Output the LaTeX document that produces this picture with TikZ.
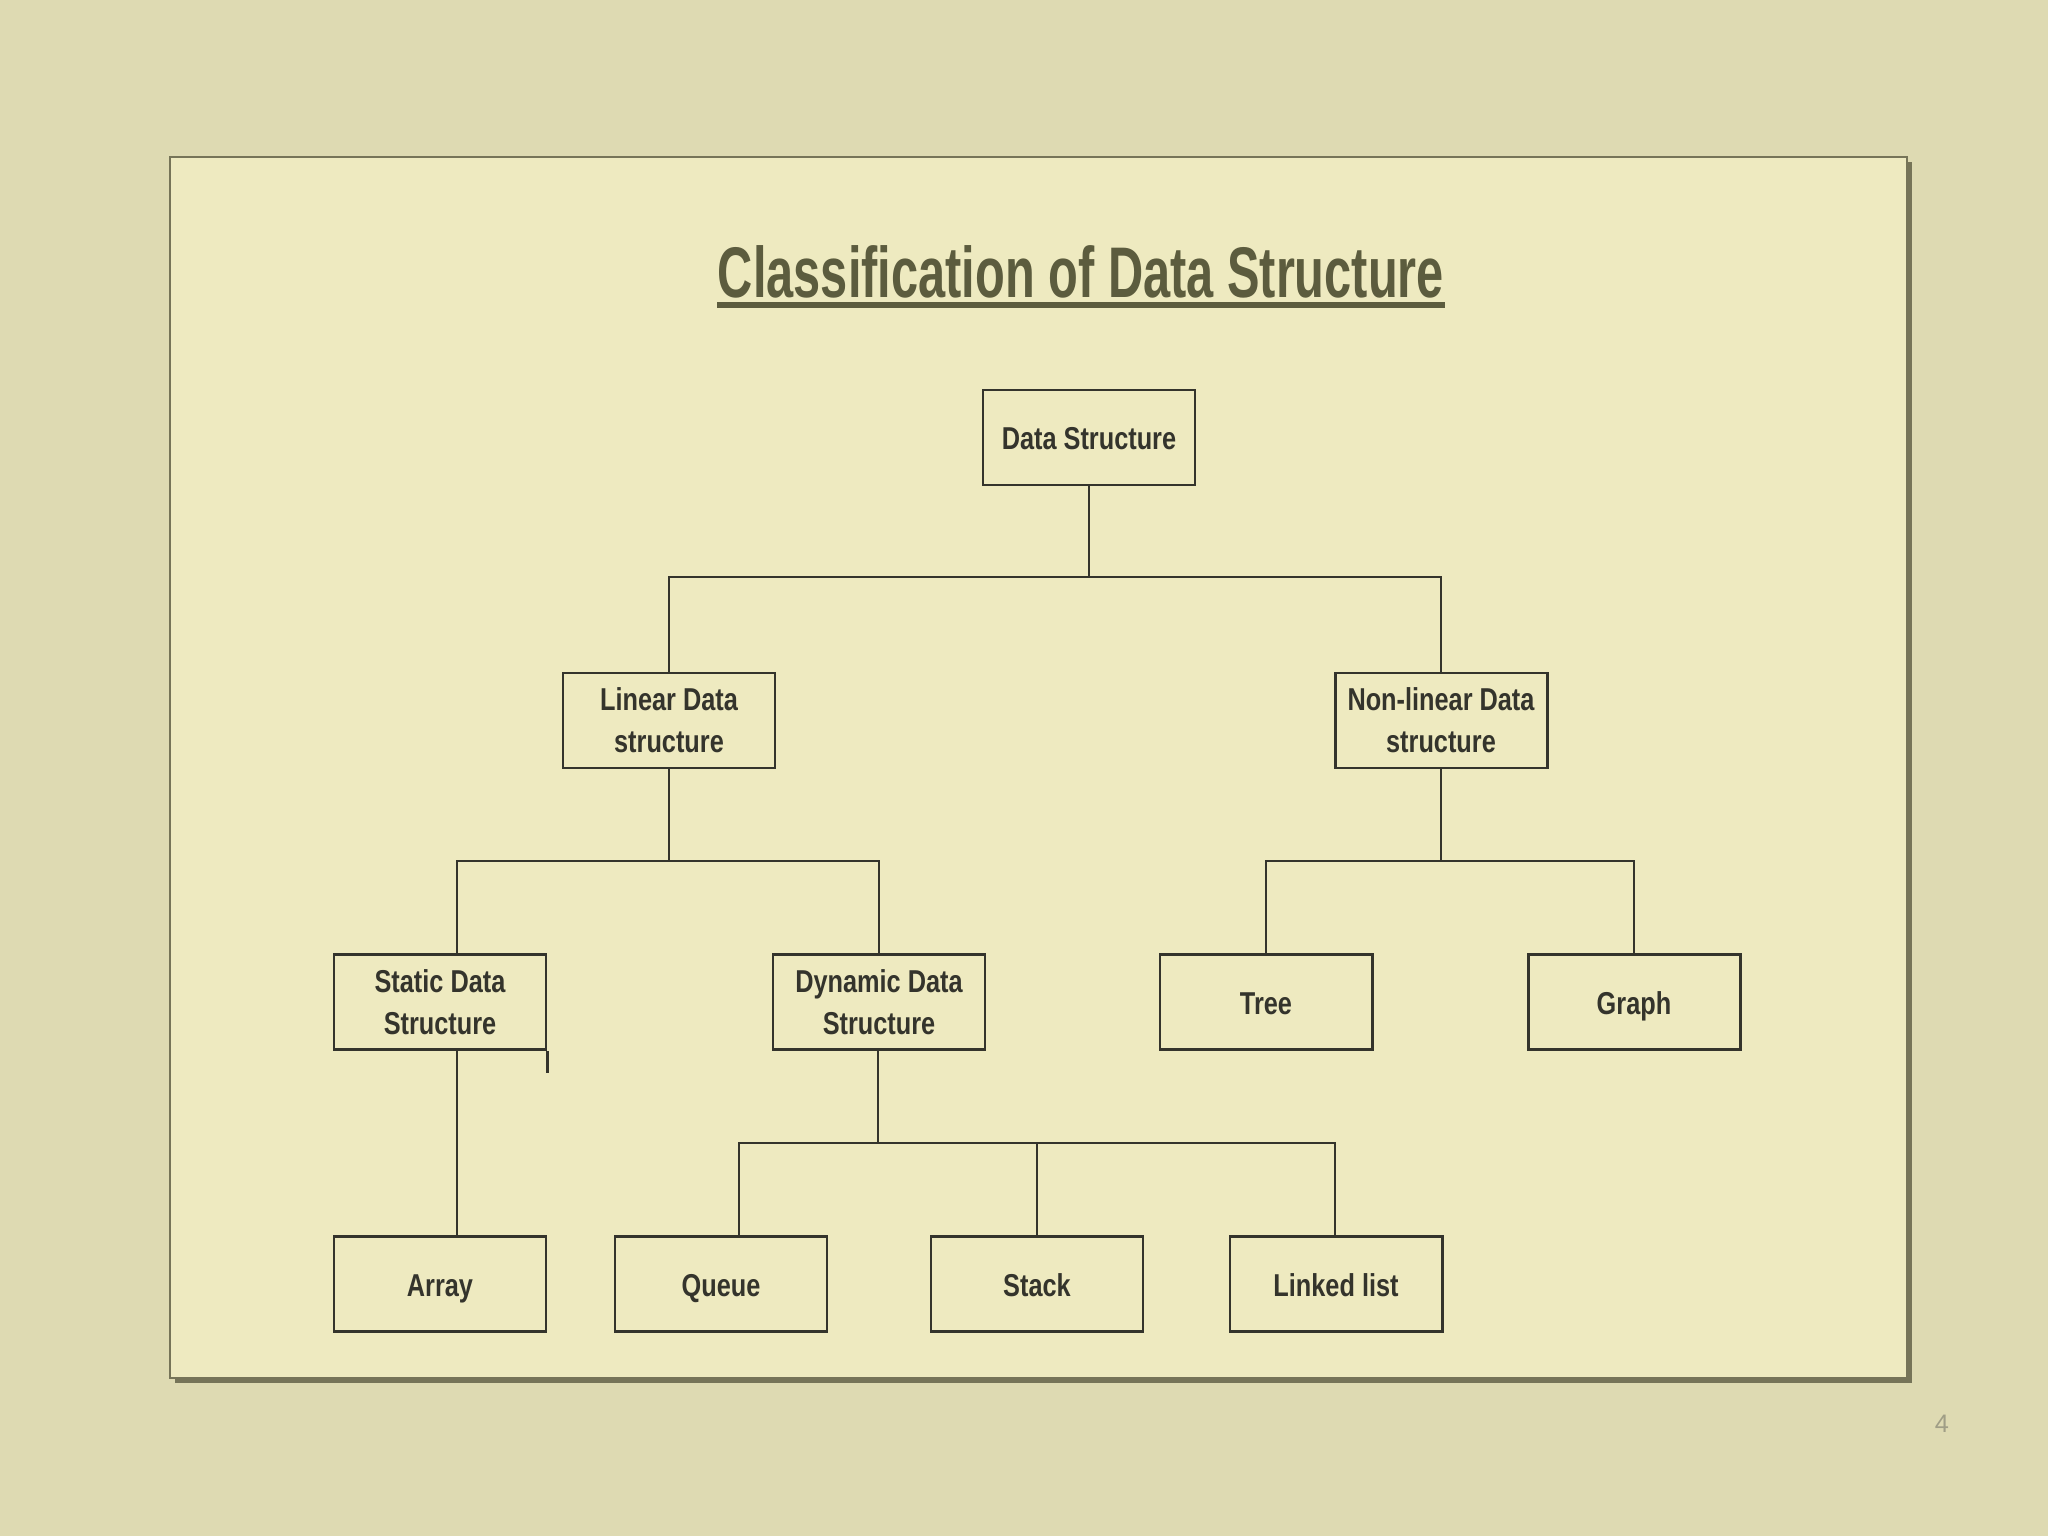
\documentclass[tikz,border=0pt]{standalone}
\usepackage{fontspec}
\newfontfamily\titlefont[FakeStretch=0.68]{Liberation Sans}
\newfontfamily\boxfont[FakeStretch=0.80]{Liberation Sans}
\newfontfamily\pagefont{Liberation Sans}
\definecolor{slidebg}{RGB}{222,218,178}
\definecolor{panelbg}{RGB}{238,234,192}
\definecolor{panelshade}{RGB}{118,116,88}
\definecolor{olive}{RGB}{92,92,62}
\definecolor{ink}{RGB}{52,52,44}
\definecolor{pagegray}{RGB}{160,158,134}
\tikzset{
  dsbox/.style={draw=ink,line width=0.85pt,fill=panelbg,minimum width=2.12cm,minimum height=0.95cm,align=center,text=ink,font=\boxfont\bfseries\fontsize{9}{12}\selectfont,inner sep=1pt},
  leaf/.style={dsbox,text height=1.8ex,text depth=0.2ex},
  link/.style={draw=ink,line width=0.75pt},
  titleline/.style={draw=olive,line width=1.6pt}
}
\begin{document}
\begin{tikzpicture}
\fill[slidebg] (0,0) rectangle (20.48,-15.36);
\useasboundingbox (0,0) rectangle (20.48,-15.36);
\fill[panelshade] (1.75,-1.62) rectangle (19.12,-13.83);
\fill[panelbg,draw=panelshade,line width=0.6pt] (1.70,-1.57) rectangle (19.07,-13.78);
\node[anchor=base,inner xsep=0pt,text=olive,font=\titlefont\bfseries\fontsize{20.4}{24}\selectfont] (title) at (10.81,-2.98) {Classification of Data Structure};
\draw[titleline] (title.west |- 0,-3.05) -- (title.east |- 0,-3.05);
\node[leaf] (ds) at (10.89,-4.375) {Data Structure};
\node[dsbox] (lin) at (6.69,-7.205) {Linear Data\\structure};
\node[dsbox] (nonlin) at (14.41,-7.205) {Non-linear Data\\structure};
\node[dsbox] (stat) at (4.40,-10.02) {Static Data\\Structure};
\node[dsbox] (dyn) at (8.79,-10.02) {Dynamic Data\\Structure};
\node[leaf] (tree) at (12.66,-10.02) {Tree};
\node[leaf] (graph) at (16.34,-10.02) {Graph};
\node[leaf] (arr) at (4.40,-12.84) {Array};
\node[leaf] (queue) at (7.21,-12.84) {Queue};
\node[leaf] (stack) at (10.37,-12.84) {Stack};
\node[leaf] (llist) at (13.36,-12.84) {Linked list};
\coordinate (jtop) at (10.89,-5.77);
\coordinate (jlin) at (6.69,-8.61);
\coordinate (jnon) at (14.41,-8.61);
\coordinate (jdyn) at (8.78,-11.43);
\coordinate (xstat) at (4.57,-8.61);
\coordinate (xqueue) at (7.39,-11.43);
\coordinate (xllist) at (13.35,-11.43);
\draw[link] (ds) -- (jtop);
\draw[link] (lin) |- (jtop) -| (nonlin);
\draw[link] (lin) -- (jlin);
\draw[link] (stat.north -| xstat) -- (xstat) -| (dyn.north);
\draw[link] (nonlin) -- (jnon);
\draw[link] (tree.north) |- (jnon) -| (graph.north);
\draw[link] (stat.south -| xstat) -- (arr.north -| xstat);
\draw[link] (stat.south east) -- ++(0,-0.22);
\draw[link] (dyn.south -| jdyn) -- (jdyn);
\draw[link] (queue.north -| xqueue) -- (xqueue) -- (xllist) -- (llist.north -| xllist);
\draw[link] (stack.north) -- (stack.north |- jdyn);
\node[text=pagegray,font=\pagefont\fontsize{7.2}{8}\selectfont] (pagenum) at (19.42,-14.24) {4};
\end{tikzpicture}
\end{document}
